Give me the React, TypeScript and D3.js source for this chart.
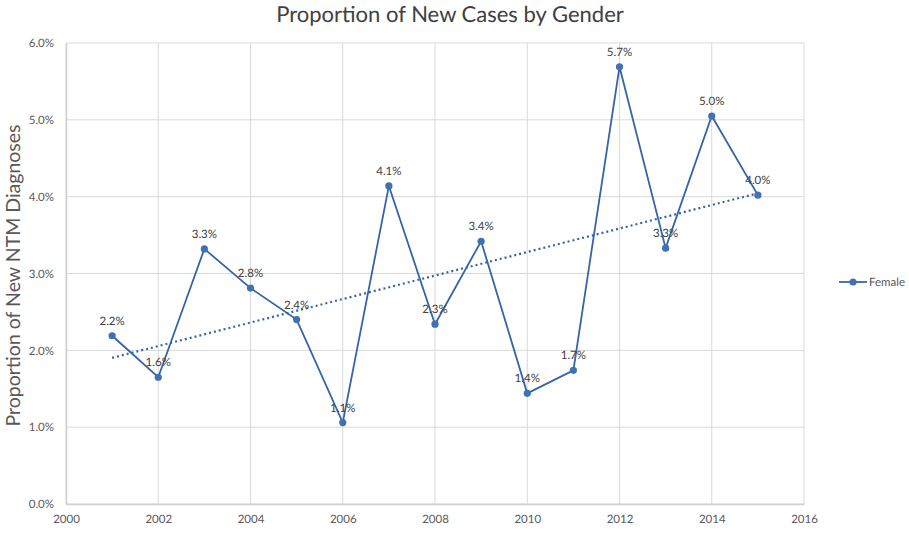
import React, { useEffect, useRef } from 'react';
import * as d3 from 'd3';

const years = [2001, 2002, 2003, 2004, 2005, 2006, 2007, 2008, 2009, 2010, 2011, 2012, 2013, 2014, 2015];
const female = [2.19, 1.65, 3.32, 2.81, 2.40, 1.06, 4.14, 2.34, 3.42, 1.44, 1.74, 5.69, 3.33, 5.05, 4.02];
const xTicks = [2000, 2002, 2004, 2006, 2008, 2010, 2012, 2014, 2016];
const yTicks = [0, 1, 2, 3, 4, 5, 6];
const seriesName = 'Female';

export default function App() {
    const ref = useRef<SVGSVGElement | null>(null);
    useEffect(() => {
        const svg = d3.select(ref.current);
        svg.selectAll('*').remove();
        const width = 909, height = 533;
        const margin = { top: 43, right: 105, bottom: 29, left: 66 };
        const font = "Lato, 'Open Sans', sans-serif";
        const lineColor = '#3565a5';

        const x = d3.scaleLinear().domain([2000, 2016]).range([margin.left, width - margin.right]);
        const y = d3.scaleLinear().domain([0, 6]).range([height - margin.bottom, margin.top]);

        svg.attr('viewBox', `0 0 ${width} ${height}`).style('font-family', font)
            .style('text-rendering', 'geometricPrecision');
        svg.append('rect').attr('width', width).attr('height', height).attr('fill', '#fff');

        // grid
        const grid = svg.append('g').attr('stroke', '#d9d9d9').attr('stroke-width', 1);
        grid.selectAll('line.h').data(yTicks).join('line')
            .attr('x1', x(2000)).attr('x2', x(2016))
            .attr('y1', d => y(d)).attr('y2', d => y(d));
        grid.selectAll('line.v').data(xTicks).join('line')
            .attr('x1', d => x(d)).attr('x2', d => x(d))
            .attr('y1', y(0)).attr('y2', y(6));

        // axes
        const xAxis = svg.append('g').attr('transform', `translate(0,${y(0)})`)
            .call(d3.axisBottom(x).tickValues(xTicks).tickFormat(d3.format('d')).tickSize(0).tickPadding(11));
        xAxis.select('.domain').attr('stroke', '#d0d0d0').attr('stroke-width', 1.5);
        const yAxis = svg.append('g').attr('transform', `translate(${x(2000)},0)`)
            .call(d3.axisLeft(y).tickValues(yTicks).tickFormat(d => `${(+d).toFixed(1)}%`).tickSize(0).tickPadding(12));
        yAxis.select('.domain').attr('stroke', '#d0d0d0').attr('stroke-width', 1.5);
        svg.selectAll('.tick text').attr('fill', '#595959').style('font-size', '11.5px').style('font-family', font);

        // trendline (linear least squares)
        const mx = d3.mean(years)!, my = d3.mean(female)!;
        const slope = d3.sum(years, (yr, i) => (yr - mx) * (female[i] - my)) / d3.sum(years, yr => (yr - mx) ** 2);
        const trend = (yr: number) => my + slope * (yr - mx);
        svg.append('line')
            .attr('x1', x(years[0])).attr('y1', y(trend(years[0])))
            .attr('x2', x(years[years.length - 1])).attr('y2', y(trend(years[years.length - 1])))
            .attr('stroke', lineColor).attr('stroke-width', 2.2).attr('stroke-dasharray', '2,3');

        // series line
        const line = d3.line<number>().x((_, i) => x(years[i])).y(d => y(d));
        svg.append('path').datum(female).attr('d', line)
            .attr('fill', 'none').attr('stroke', lineColor).attr('stroke-width', 1.8);
        svg.selectAll('circle.pt').data(female).join('circle')
            .attr('cx', (_, i) => x(years[i])).attr('cy', d => y(d)).attr('r', 3.6)
            .attr('fill', '#4170b3');

        // data labels
        svg.selectAll('text.lbl').data(female).join('text')
            .attr('x', (_, i) => x(years[i])).attr('y', d => y(d) - 11)
            .attr('text-anchor', 'middle').attr('fill', '#404040')
            .style('font-size', '11.5px')
            .text(d => `${d.toFixed(1)}%`);

        // title
        svg.append('text').attr('x', 450).attr('y', 22).attr('text-anchor', 'middle')
            .attr('fill', '#404040').style('font-size', '22px').text('Proportion of New Cases by Gender');

        // y label
        svg.append('text').attr('transform', `translate(20,${(y(0) + y(6)) / 2 + 2}) rotate(-90)`)
            .attr('text-anchor', 'middle').attr('fill', '#595959').style('font-size', '19.5px')
            .text('Proportion of New NTM Diagnoses');

        // legend
        const lg = svg.append('g').attr('transform', 'translate(839,282)');
        lg.append('line').attr('x1', 0).attr('x2', 28).attr('stroke', lineColor).attr('stroke-width', 1.8);
        lg.append('circle').attr('cx', 14).attr('r', 3.6).attr('fill', '#4170b3');
        lg.append('text').attr('x', 30).attr('y', 4).attr('fill', '#595959').style('font-size', '11.5px').text(seriesName);
    }, []);
    return <svg ref={ref} width={909} height={533} style={{ display: 'block', position: 'absolute', left: 0, top: 0 }} />;
}
